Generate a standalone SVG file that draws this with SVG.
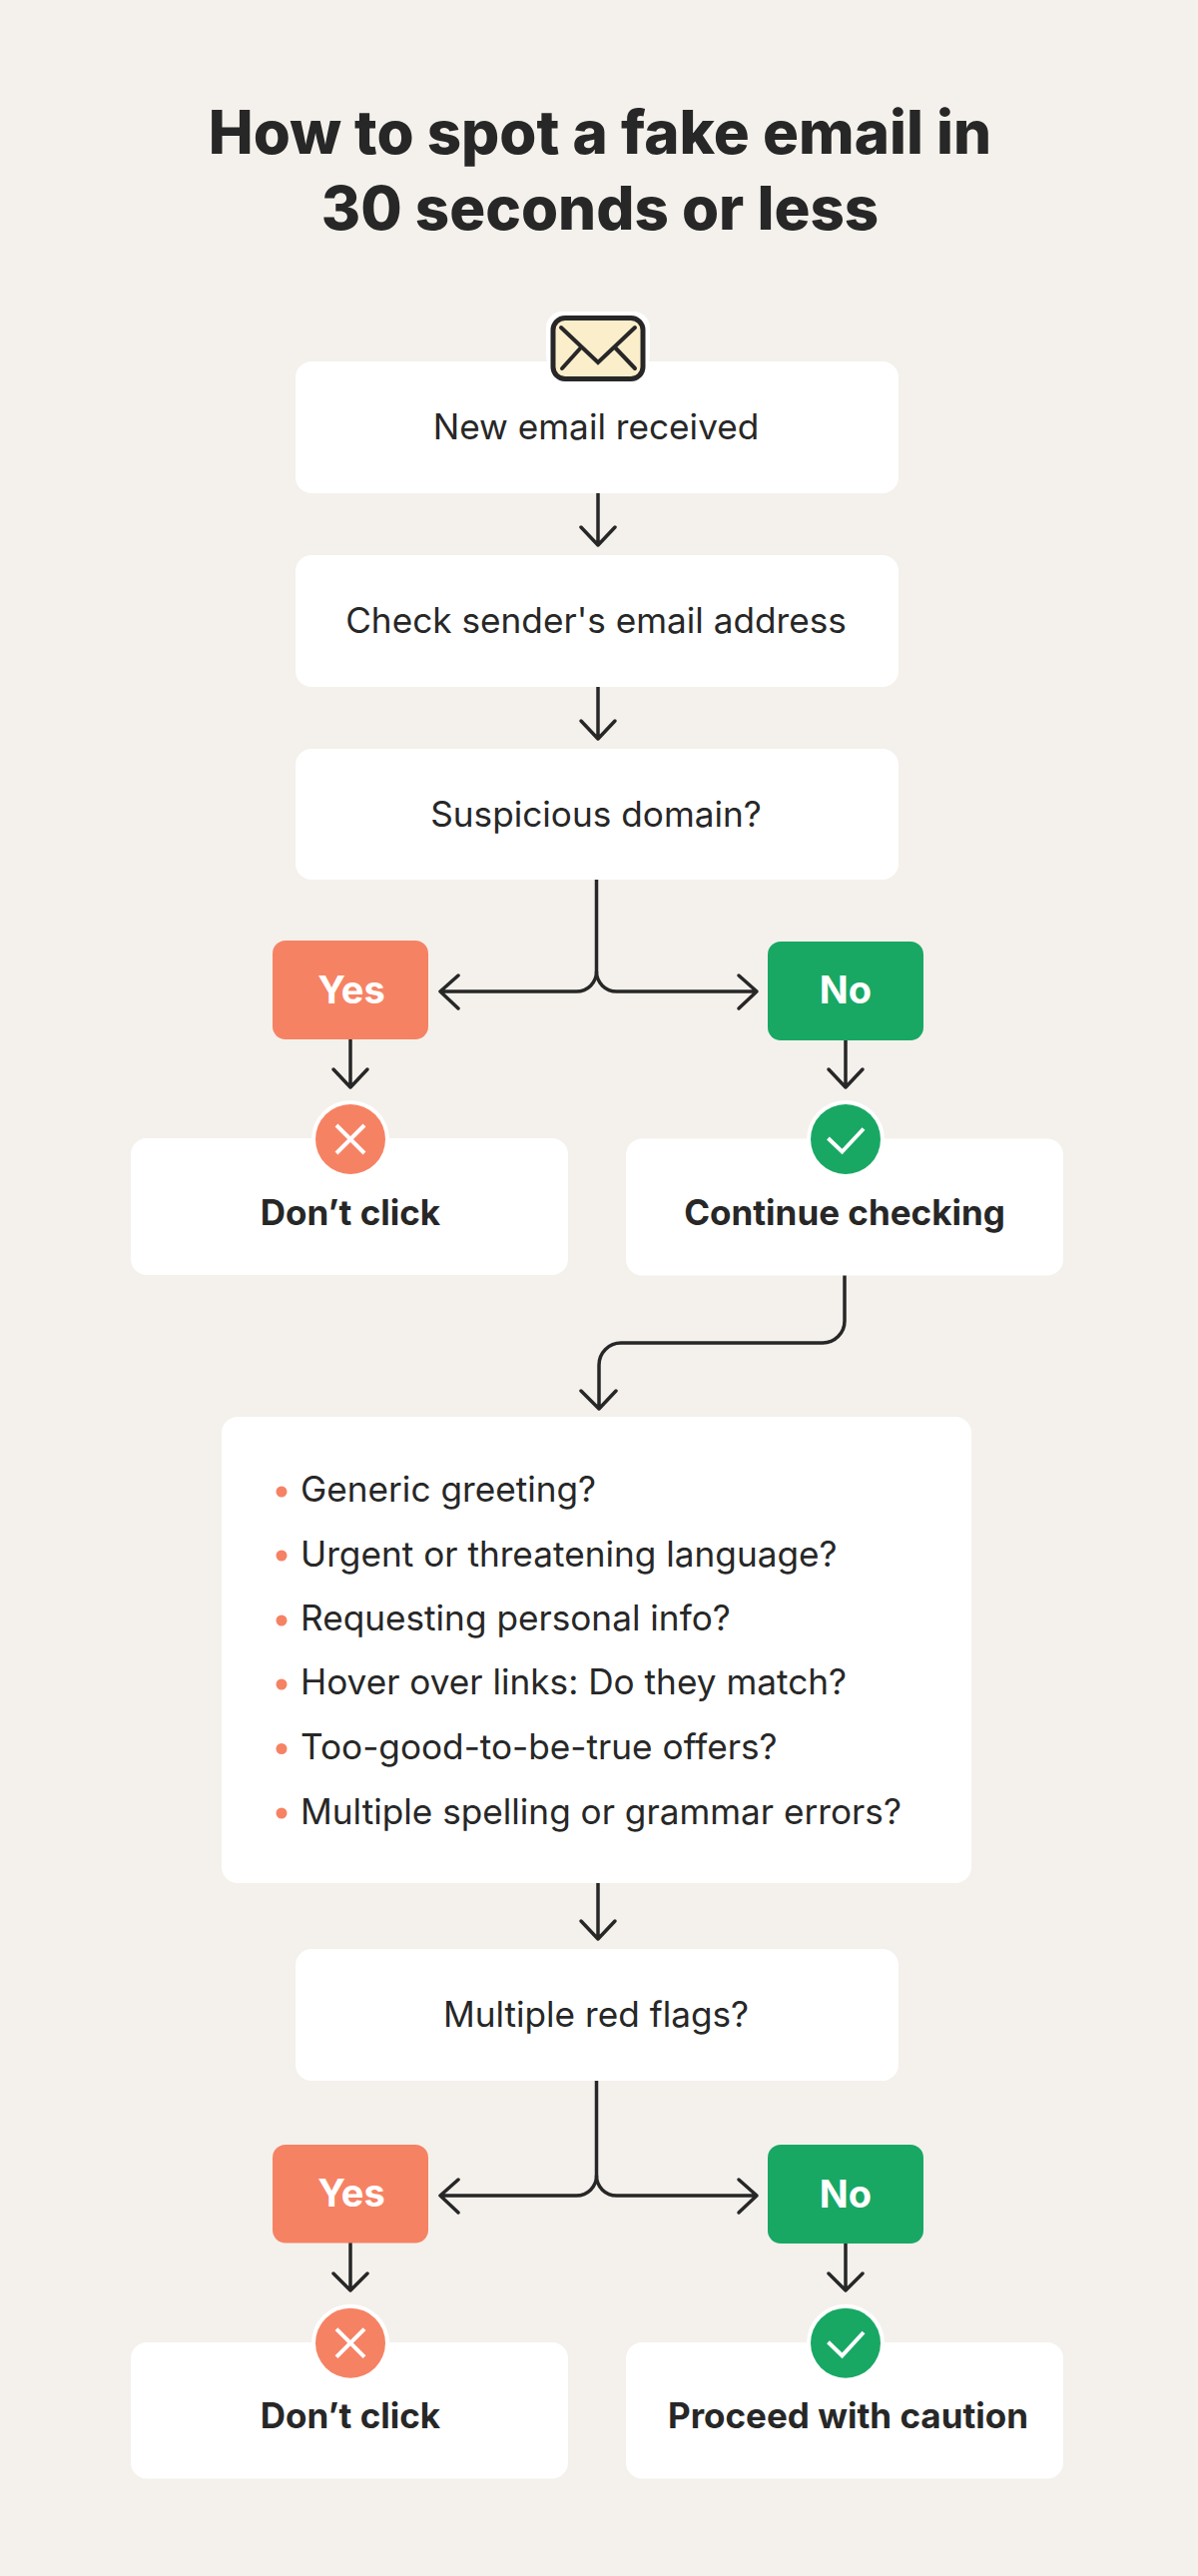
<svg xmlns="http://www.w3.org/2000/svg" width="1200" height="2580" viewBox="0 0 1200 2580">
<defs>
<style>
text{font-family:Inter,"Liberation Sans",sans-serif;fill:#272727}
.t{font-size:60px;font-weight:800;text-anchor:middle}
.b{font-size:35.2px;font-weight:400;text-anchor:middle}
.s{font-size:35px;font-weight:700;text-anchor:middle}
.w{font-size:38px;font-weight:700;text-anchor:middle;fill:#fff}
.l{font-size:35.2px;font-weight:400}
.box{fill:#fff}
.y{fill:#f68264}
.n{fill:#18a864}
.c{fill:none;stroke:#272727;stroke-width:3.5;stroke-linecap:round;stroke-linejoin:round}
.m{fill:none;stroke:#fff;stroke-width:4}
.r{fill:#fff}
</style>
</defs>
<rect width="1200" height="2580" fill="#f4f1ec"/>
<g id="title"><text class="t" x="601" y="154">How to spot a fake email in</text><text class="t" x="601" y="230">30 seconds or less</text></g>
<g id="connectors">
<path class="c" d="M599 494V546M582 528L599 546L616 528"/>
<path class="c" d="M599 688V740M582 722L599 740L616 722"/>
<path class="c" d="M597.5 881V973A20 20 0 0 1 577.5 993H441M459 977L441 993L459 1010"/>
<path class="c" d="M597.5 973A20 20 0 0 0 617.5 993H758M740 977L758 993L740 1010"/>
<path class="c" d="M351 1041V1089M334 1071L351 1089L368 1071"/>
<path class="c" d="M847 1042V1089M830 1071L847 1089L864 1071"/>
<path class="c" d="M846 1277V1323A22 22 0 0 1 824 1345H622A22 22 0 0 0 600 1367V1411M582 1393L600 1411L617 1393"/>
<path class="c" d="M599 1886V1942M582 1924L599 1942L616 1924"/>
<path class="c" d="M597.5 2084V2179A20 20 0 0 1 577.5 2199H441M459 2183L441 2199L459 2216"/>
<path class="c" d="M597.5 2179A20 20 0 0 0 617.5 2199H758M740 2183L758 2199L740 2216"/>
<path class="c" d="M351 2246V2294M334 2277L351 2294L368 2277"/>
<path class="c" d="M847 2247V2294M830 2277L847 2294L864 2277"/>
</g>
<g id="node-new"><rect class="box" x="296" y="362" width="604" height="132" rx="16"/><rect x="547" y="312" width="104" height="60" rx="16" fill="#fff"/><rect x="554" y="318.500" width="90" height="61" rx="12" fill="#fbeecb" stroke="#272727" stroke-width="5"/><path d="M562 328L599 363L636 328M582 348L563 369M616 348L636 369" fill="none" stroke="#272727" stroke-width="4" stroke-linecap="round"/><text class="b" x="597" y="440">New email received</text></g>
<g id="node-check"><rect class="box" x="296" y="556" width="604" height="132" rx="16"/><text class="b" x="597" y="634">Check sender's email address</text></g>
<g id="node-domain"><rect class="box" x="296" y="750" width="604" height="131" rx="16"/><text class="b" x="597" y="828">Suspicious domain?</text></g>
<g id="node-yes-1"><rect class="y" x="273" y="942" width="156" height="99" rx="13"/><text class="w" x="352" y="1004.500">Yes</text></g>
<g id="node-no-1"><rect class="n" x="769" y="943" width="156" height="99" rx="13"/><text class="w" x="847" y="1005">No</text></g>
<g id="node-stop-1"><rect class="box" x="131" y="1140" width="438" height="137" rx="16"/><circle class="r" cx="351" cy="1141" r="39"/><circle class="y" cx="351" cy="1141" r="35"/><path class="m" d="M337 1127L365 1155M365 1127L337 1155"/><text class="s" x="351" y="1226.500">Don’t click</text></g>
<g id="node-continue"><rect class="box" x="627" y="1140.500" width="438" height="137" rx="16"/><circle class="r" cx="847" cy="1141" r="39"/><circle class="n" cx="847" cy="1141" r="35"/><path class="m" d="M829.500 1140L843.500 1153.500L865 1130.500"/><text class="s" x="846" y="1226.500">Continue checking</text></g>
<g id="node-list"><rect class="box" x="222" y="1419" width="751" height="467" rx="16"/>
<g class="y"><circle cx="282" cy="1494" r="5.5"/><circle cx="282" cy="1558" r="5.5"/><circle cx="282" cy="1623" r="5.5"/><circle cx="282" cy="1687" r="5.5"/><circle cx="282" cy="1751.500" r="5.5"/><circle cx="282" cy="1816" r="5.5"/></g>
<text class="l" x="301" y="1504">Generic greeting?</text><text class="l" x="301" y="1568.500">Urgent or threatening language?</text><text class="l" x="301" y="1633">Requesting personal info?</text><text class="l" x="301" y="1697">Hover over links: Do they match?</text><text class="l" x="301" y="1761.500">Too-good-to-be-true offers?</text><text class="l" x="301" y="1826.500">Multiple spelling or grammar errors?</text></g>
<g id="node-flags"><rect class="box" x="296" y="1952" width="604" height="132" rx="16"/><text class="b" x="597" y="2030">Multiple red flags?</text></g>
<g id="node-yes-2"><rect class="y" x="273" y="2148" width="156" height="98.500" rx="13"/><text class="w" x="352" y="2210">Yes</text></g>
<g id="node-no-2"><rect class="n" x="769" y="2148" width="156" height="99" rx="13"/><text class="w" x="847" y="2210.500">No</text></g>
<g id="node-stop-2"><rect class="box" x="131" y="2346" width="438" height="136.500" rx="16"/><circle class="r" cx="351" cy="2346.700" r="39"/><circle class="y" cx="351" cy="2346.700" r="35"/><path class="m" d="M337 2332.700L365 2360.700M365 2332.700L337 2360.700"/><text class="s" x="351" y="2432">Don’t click</text></g>
<g id="node-caution"><rect class="box" x="627" y="2346" width="438" height="136.500" rx="16"/><circle class="r" cx="847" cy="2346.700" r="39"/><circle class="n" cx="847" cy="2346.700" r="35"/><path class="m" d="M829.500 2345.700L843.500 2359.300L865 2336"/><text class="s" x="849.500" y="2432">Proceed with caution</text></g>
</svg>
